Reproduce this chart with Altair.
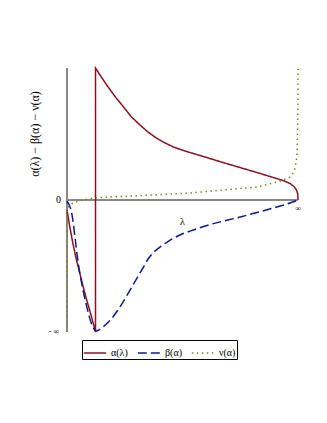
import altair as alt
import pandas as pd

# α(λ) curve (lower branch, jump, upper branch)
alpha_x = [0.0, 0.013, 0.026, 0.0411, 0.0563, 0.0714, 0.0866, 0.1039, 0.1234,
           0.1234, 0.1429, 0.1719, 0.2078, 0.2437, 0.2771, 0.3160, 0.3506, 0.3883, 0.4242, 0.4602,
           0.5108, 0.5758, 0.6753, 0.7489, 0.8225, 0.8788, 0.9351, 0.9654, 0.9827, 0.9935, 0.9991, 1.0]
alpha_y = [-0.076, -0.212, -0.333, -0.455, -0.561, -0.667, -0.765, -0.871, -1.0,
           1.0, 0.947, 0.871, 0.784, 0.707, 0.633, 0.568, 0.515, 0.468, 0.432, 0.402,
           0.371, 0.337, 0.284, 0.246, 0.208, 0.178, 0.148, 0.125, 0.102, 0.076, 0.045, 0.0]

# β(α) curve
beta_x = [0.0, 0.022, 0.035, 0.048, 0.065, 0.087, 0.108, 0.126, 0.156, 0.195, 0.229, 0.268, 0.303,
          0.329, 0.351, 0.372, 0.403, 0.437, 0.489, 0.554, 0.606, 0.749, 0.892, 0.965, 1.0]
beta_y = [-0.008, -0.114, -0.288, -0.470, -0.644, -0.818, -0.947, -0.992, -0.962, -0.894, -0.811, -0.697, -0.591,
          -0.515, -0.447, -0.402, -0.356, -0.315, -0.265, -0.223, -0.193, -0.129, -0.061, -0.023, 0.0]

# ν(α) curve
nu_x = [0.0, 0.0, 0.013, 0.026, 0.069, 0.113, 0.186, 0.372, 0.532, 0.675, 0.823, 0.909, 0.948, 0.965, 0.980, 0.987, 0.993, 0.996, 0.998, 1.0, 1.0]
nu_y = [-1.0, -0.061, -0.040, -0.023, 0.0, 0.015, 0.023, 0.038, 0.053, 0.076, 0.098, 0.136, 0.160, 0.174, 0.205, 0.242, 0.300, 0.356, 0.530, 0.758, 0.992]

series_names = ["α(λ)", "β(α)", "ν(α)"]
series_colors = ["#8b1020", "#0d1a8c", "#6b8e23"]
series_dash = [[1, 0], [9, 4], [1.5, 3.5]]

rows = []
for name, xs_, ys_ in zip(series_names, [alpha_x, beta_x, nu_x], [alpha_y, beta_y, nu_y]):
    for i, (xv, yv) in enumerate(zip(xs_, ys_)):
        rows.append({"series": name, "x": xv, "y": yv, "i": i})
df = pd.DataFrame(rows)

xs = alt.Scale(domain=[0, 1])
ys = alt.Scale(domain=[-1, 1])
X = alt.X("x:Q", scale=xs, axis=None)
Y = alt.Y("y:Q", scale=ys, axis=None)

axis_y = alt.Chart(pd.DataFrame({"x": [0], "y": [-1], "y2": [1]})).mark_rule(
    color="#888888", strokeWidth=2
).encode(x=X, y=Y, y2="y2:Q")

axis_x = alt.Chart(pd.DataFrame({"x": [0], "x2": [1], "y": [0]})).mark_rule(
    color="#888888", strokeWidth=2
).encode(x=X, x2="x2:Q", y=Y)

color_enc = alt.Color("series:N", scale=alt.Scale(domain=series_names, range=series_colors), title=None)
dash_enc = alt.StrokeDash("series:N", scale=alt.Scale(domain=series_names, range=series_dash), title=None)

line_layers = []
for name, interp in zip(series_names, ["linear", "monotone", "linear"]):
    line_layers.append(
        alt.Chart(df).transform_filter(alt.datum.series == name).mark_line(
            strokeWidth=1.5, interpolate=interp
        ).encode(x=X, y=Y, color=color_enc, strokeDash=dash_enc, order="i:Q")
    )

tick_labels = pd.DataFrame({
    "x": [0, 0, 1, 0.5],
    "y": [0, -1, 0, 0],
    "t": ["0", "- ∞", "∞", "λ"],
    "dx": [-6, -8, 0, 0],
    "dy": [0, 0, 9, 22],
    "size": [10, 8, 8, 10],
    "align": ["right", "right", "center", "center"],
})

txt_layers = []
for _, r in tick_labels.iterrows():
    txt_layers.append(
        alt.Chart(pd.DataFrame([r])).mark_text(
            font="Liberation Serif", fontWeight="normal", fontSize=int(r["size"]), align=r["align"],
            baseline="middle", dx=int(r["dx"]), dy=int(r["dy"]), color="black"
        ).encode(x=X, y=Y, text="t:N")
    )

ytitle = alt.Chart(pd.DataFrame({"t": ["α(λ) − β(α) − ν(α)"]})).mark_text(
    font="Liberation Serif", fontWeight="normal", fontSize=12, angle=270, align="center",
    baseline="middle", color="black"
).encode(x=alt.value(-32), y=alt.value(66), text="t:N")

chart = alt.layer(axis_y, axis_x, *line_layers, *txt_layers, ytitle).properties(
    width=231, height=264,
    autosize=alt.AutoSizeParams(type="none"),
    padding={"left": 59, "top": 60, "right": 21, "bottom": 80},
).configure_view(stroke=None).configure_legend(
    orient="none", legendX=15, legendY=272, direction="horizontal",
    strokeColor="black", padding=1, symbolType="stroke", symbolSize=500,
    symbolStrokeWidth=1.5, labelFont="Liberation Serif", labelFontWeight="normal",
    labelFontSize=10, columnPadding=6, labelOffset=4,
)

chart.save("out.html", embed_options={"renderer": "svg", "actions": False})
